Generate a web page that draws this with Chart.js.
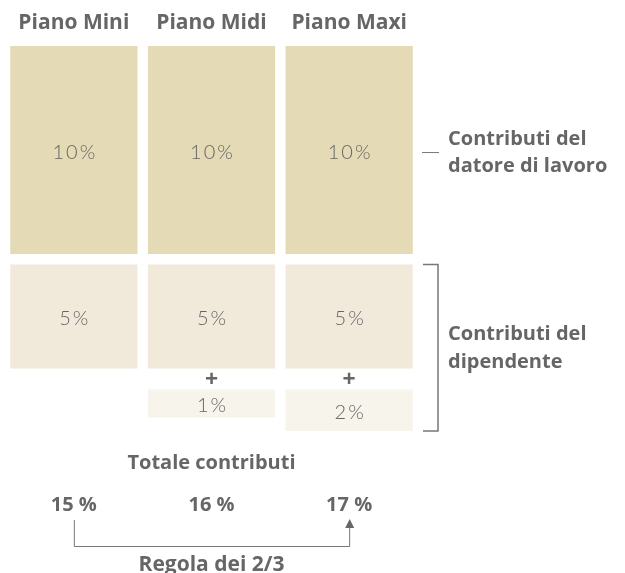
<!DOCTYPE html>
<html>
<head>
<meta charset="utf-8">
<script src="https://cdn.jsdelivr.net/npm/chart.js@4"></script>
<style>
  body { margin: 0; background: #fff; }
</style>
</head>
<body>
<canvas id="piani" width="625" height="573"></canvas>
<script>
// dati
const piani = ['Piano Mini', 'Piano Midi', 'Piano Maxi'];
const datore = [10, 10, 10];
const dipendente = [5, 5, 5];
const extra = [0, 1, 2];

const GAP = 0.5; // spazio tra i blocchi (in punti %)
const grigio = '#666666';
const famiglia = '"Open Sans", Lato, sans-serif';
const fontBold = 'bold 20px ' + famiglia;
const fontLight = '300 20px Lato, "Open Sans", sans-serif';

const totali = piani.map((_, i) => datore[i] + dipendente[i] + extra[i]);

// ===== etichette e annotazioni =====
const etichette = {
  id: 'etichette',
  afterDraw(chart) {
    const ctx = chart.ctx;
    const area = chart.chartArea;
    const y = chart.scales.y;
    const x = chart.scales.x;
    ctx.save();
    ctx.fillStyle = grigio;
    ctx.strokeStyle = '#777';
    ctx.textAlign = 'center';
    ctx.textBaseline = 'middle';

    // percentuali dentro i blocchi
    ctx.font = fontLight;
    ctx.letterSpacing = '2px';
    chart.data.datasets.forEach((ds, d) => {
      chart.getDatasetMeta(d).data.forEach((bar, i) => {
        const v = ds.valori[i];
        if (!v) return;
        ctx.fillText(v + '%', bar.x + 1, (bar.y + bar.base) / 2 + 2);
      });
    });
    ctx.letterSpacing = '0px';

    // segni "+"
    ctx.font = 'bold 23px ' + famiglia;
    const fineDip = y.getPixelForValue(datore[0] + GAP + dipendente[0]);
    const inizioExtra = y.getPixelForValue(datore[0] + dipendente[0] + 3 * GAP);
    extra.forEach((v, i) => {
      if (v) ctx.fillText('+', x.getPixelForValue(i), (fineDip + inizioExtra) / 2 + 1);
    });
    ctx.font = fontBold;

    // annotazione datore di lavoro
    ctx.lineWidth = 1;
    const yDat = y.getPixelForValue(datore[0] / 2) + 2;
    ctx.beginPath();
    ctx.moveTo(area.right + 4, yDat + 0.5);
    ctx.lineTo(area.right + 21, yDat + 0.5);
    ctx.stroke();
    ctx.textAlign = 'left';
    ctx.fillText('Contributi del', area.right + 30, yDat - 13);
    ctx.fillText('datore di lavoro', area.right + 30, yDat + 14);

    // parentesi dipendente
    const yTop = y.getPixelForValue(datore[0] + GAP);
    const yBot = y.getPixelForValue(y.max);
    const xb = area.right + 20;
    ctx.lineWidth = 1.5;
    ctx.beginPath();
    ctx.moveTo(area.right + 5, yTop);
    ctx.lineTo(xb, yTop);
    ctx.lineTo(xb, yBot);
    ctx.lineTo(area.right + 5, yBot);
    ctx.stroke();
    const yMid = (yTop + yBot) / 2;
    ctx.fillText('Contributi del', area.right + 30, yMid - 13);
    ctx.fillText('dipendente', area.right + 30, yMid + 15);

    // totale contributi
    ctx.textAlign = 'center';
    const xc = (x.getPixelForValue(0) + x.getPixelForValue(2)) / 2;
    ctx.fillText('Totale contributi', xc, area.bottom + 32);
    totali.forEach((t, i) => {
      ctx.fillText(t + ' %', x.getPixelForValue(i), area.bottom + 74);
    });

    // freccia regola dei 2/3
    const x0 = x.getPixelForValue(0);
    const x2 = x.getPixelForValue(2);
    const yLine = area.bottom + 115;
    ctx.lineWidth = 1;
    ctx.beginPath();
    ctx.moveTo(x0 + 0.5, area.bottom + 89);
    ctx.lineTo(x0 + 0.5, yLine + 0.5);
    ctx.lineTo(x2 + 0.5, yLine + 0.5);
    ctx.lineTo(x2 + 0.5, area.bottom + 94);
    ctx.stroke();
    ctx.beginPath();
    ctx.moveTo(x2 + 0.5, area.bottom + 88);
    ctx.lineTo(x2 - 4, area.bottom + 97);
    ctx.lineTo(x2 + 5, area.bottom + 97);
    ctx.closePath();
    ctx.fill();
    ctx.font = 'bold 21px ' + famiglia;
    ctx.fillText('Regola dei 2/3', xc, area.bottom + 134);
    ctx.restore();
  }
};

new Chart(document.getElementById('piani'), {
  type: 'bar',
  data: {
    labels: piani,
    datasets: [
      {
        label: 'Datore di lavoro',
        valori: datore,
        data: datore.map(v => [0, v]),
        backgroundColor: '#e4dab6'
      },
      {
        label: 'Dipendente',
        valori: dipendente,
        data: dipendente.map((v, i) => [datore[i] + GAP, datore[i] + GAP + v]),
        backgroundColor: '#f1eadb'
      },
      {
        label: 'Extra dipendente',
        valori: extra,
        data: extra.map((v, i) => {
          const inizio = datore[i] + dipendente[i] + 3 * GAP;
          return v ? [inizio, inizio + v] : null;
        }),
        backgroundColor: '#f7f4ec',
        minBarLength: 28
      }
    ]
  },
  options: {
    responsive: false,
    animation: false,
    layout: { padding: { left: 5, right: 207, top: 12, bottom: 142 } },
    datasets: { bar: { grouped: false, categoryPercentage: 1, barPercentage: 0.924 } },
    plugins: { legend: { display: false }, tooltip: { enabled: false } },
    scales: {
      x: {
        position: 'top',
        grid: { display: false, drawTicks: false },
        border: { display: false },
        afterFit: scale => { scale.height = 34; },
        ticks: { color: grigio, padding: 10, font: { family: famiglia, size: 21, weight: 'bold' } }
      },
      y: {
        display: false,
        reverse: true,
        min: 0,
        max: 18.5
      }
    }
  },
  plugins: [etichette]
});
</script>
</body>
</html>
